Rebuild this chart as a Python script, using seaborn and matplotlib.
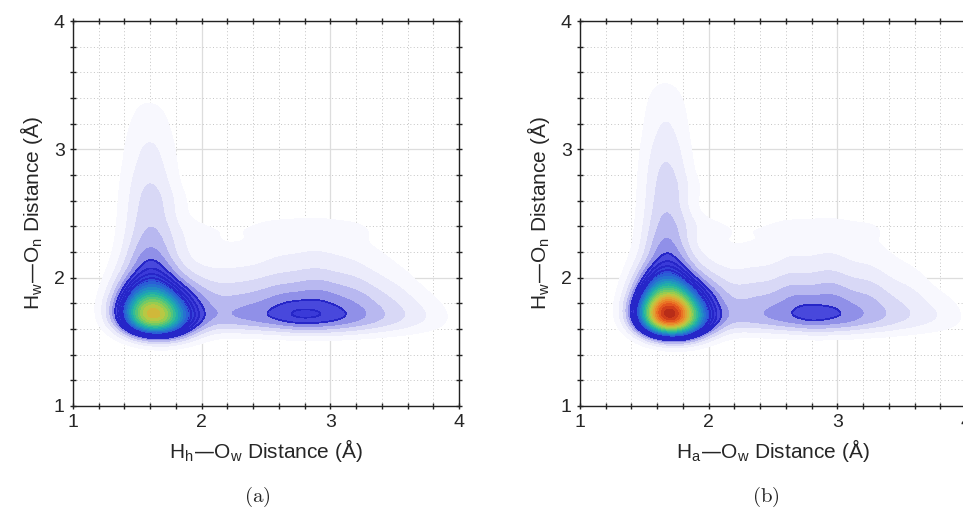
import numpy as np
import matplotlib
matplotlib.use("Agg")
import matplotlib.pyplot as plt
from matplotlib.colors import ListedColormap, BoundaryNorm
from matplotlib.ticker import MultipleLocator
import seaborn as sns
from seaborn._statistics import KDE

# Weighted samples (distances in Angstrom).
# (a) H_h-O_w vs H_w-O_n
a_x = [1.50, 1.62, 1.74, 1.86,  1.50, 1.62, 1.74, 1.86,  1.50, 1.62, 1.74, 1.86,
       1.50, 1.62, 1.74, 1.86,  1.50, 1.62, 1.74, 1.86,  1.50, 1.62, 1.74,
       1.50, 1.62, 1.74,  1.50, 1.62, 1.74,
       1.60, 1.60, 1.60, 1.60, 1.60, 1.60, 1.60, 1.60, 1.60, 1.60, 1.60, 1.60, 1.60, 1.60,
       1.85, 1.85,
       2.00, 2.25, 2.50, 2.75, 3.00, 3.25, 3.50, 3.75, 3.95,
       2.00, 2.25, 2.50, 2.75, 3.00, 3.25, 3.50, 3.75, 3.95,
       2.00, 2.30, 2.60, 2.90, 3.20, 3.50, 3.80,
       2.00, 2.30, 2.60, 2.90, 3.20, 3.50, 3.80,
       2.00, 2.30, 2.60, 2.90, 3.20, 3.50,
       2.00, 2.30, 2.60, 2.90, 3.20, 3.50]
a_y = [1.60, 1.60, 1.60, 1.60,  1.67, 1.67, 1.67, 1.67,  1.74, 1.74, 1.74, 1.74,
       1.81, 1.81, 1.81, 1.81,  1.88, 1.88, 1.88, 1.88,  1.95, 1.95, 1.95,
       2.02, 2.02, 2.02,  2.09, 2.09, 2.09,
       2.16, 2.26, 2.36, 2.46, 2.56, 2.66, 2.76, 2.86, 2.96, 3.06, 3.16, 3.26, 3.36, 3.46,
       2.30, 2.60,
       1.66, 1.66, 1.66, 1.66, 1.66, 1.66, 1.66, 1.66, 1.66,
       1.76, 1.76, 1.76, 1.76, 1.76, 1.76, 1.76, 1.76, 1.76,
       1.88, 1.88, 1.88, 1.88, 1.88, 1.88, 1.88,
       2.02, 2.02, 2.02, 2.02, 2.02, 2.02, 2.02,
       2.18, 2.18, 2.18, 2.18, 2.18, 2.18,
       2.38, 2.38, 2.38, 2.38, 2.38, 2.38]
a_w = [4.2, 6.1, 3.5, 1.1,  6.9, 9.6, 5.4, 1.9,  5.8, 8.8, 5.0, 1.8,
       4.5, 7.4, 3.8, 1.0,  3.2, 5.8, 2.7, 0.6,  2.2, 4.6, 1.8,
       1.6, 3.7, 1.0,  1.0, 3.0, 0.6,
       5.6, 5.0, 4.3, 4.0, 3.8, 3.5, 3.2, 2.7, 2.5, 2.2, 1.8, 1.5, 1.2, 0.5,
       1.0, 0.7,
       3.0, 4.75, 5.3, 7.2, 6.4, 4.8, 3.2, 1.8, 0.3,
       2.3, 3.6, 4.0, 5.4, 4.8, 3.6, 2.4, 1.4, 0.2,
       4.0, 4.0, 5.2, 6.0, 4.8, 2.8, 0.8,
       2.8, 2.8, 3.6, 4.4, 3.4, 1.8, 0.3,
       1.8, 1.8, 2.6, 3.0, 2.4, 1.0,
       1.6, 1.4, 2.4, 3.0, 2.1, 0.5]

# (b) H_a-O_w vs H_w-O_n
b_x = [1.57, 1.69, 1.81, 1.93,  1.57, 1.69, 1.81, 1.93,  1.57, 1.69, 1.81, 1.93,
       1.57, 1.69, 1.81, 1.93,  1.57, 1.69, 1.81, 1.93,  1.57, 1.69, 1.81, 1.93,
       1.57, 1.69, 1.81,  1.57, 1.69, 1.81,  1.57, 1.69, 1.81,
       1.67, 1.67, 1.67, 1.67, 1.67, 1.67, 1.67, 1.67, 1.67, 1.67, 1.67, 1.67, 1.67, 1.67, 1.67,
       1.93, 1.93,
       2.05, 2.30, 2.55, 2.80, 3.05, 3.30, 3.55, 3.80, 4.00,
       2.05, 2.30, 2.55, 2.80, 3.05, 3.30, 3.55, 3.80, 4.00,
       2.05, 2.35, 2.65, 2.95, 3.25, 3.55, 3.85,
       2.05, 2.35, 2.65, 2.95, 3.25, 3.55, 3.85,
       2.05, 2.35, 2.65, 2.95, 3.25, 3.55, 3.85,
       2.05, 2.35, 2.65, 2.95, 3.25, 3.55]
b_y = [1.60, 1.60, 1.60, 1.60,  1.67, 1.67, 1.67, 1.67,  1.74, 1.74, 1.74, 1.74,
       1.81, 1.81, 1.81, 1.81,  1.88, 1.88, 1.88, 1.88,  1.95, 1.95, 1.95, 1.95,
       2.02, 2.02, 2.02,  2.09, 2.09, 2.09,  2.16, 2.16, 2.16,
       2.24, 2.34, 2.44, 2.54, 2.64, 2.74, 2.84, 2.94, 3.04, 3.14, 3.24, 3.34, 3.44, 3.54, 3.62,
       2.40, 2.70,
       1.66, 1.66, 1.66, 1.66, 1.66, 1.66, 1.66, 1.66, 1.66,
       1.76, 1.76, 1.76, 1.76, 1.76, 1.76, 1.76, 1.76, 1.76,
       1.88, 1.88, 1.88, 1.88, 1.88, 1.88, 1.88,
       2.02, 2.02, 2.02, 2.02, 2.02, 2.02, 2.02,
       2.18, 2.18, 2.18, 2.18, 2.18, 2.18, 2.18,
       2.38, 2.38, 2.38, 2.38, 2.38, 2.38]
b_w = [5.4, 8.0, 4.8, 1.6,  9.0, 12.5, 7.4, 2.7,  7.5, 11.5, 6.7, 2.4,
       5.8, 9.6, 5.1, 1.4,  4.2, 7.7, 3.7, 1.0,  2.9, 6.1, 2.4, 0.5,
       2.1, 4.8, 1.4,  1.3, 4.0, 0.8,  0.8, 3.2, 0.5,
       5.6, 5.0, 4.4, 4.1, 3.8, 3.7, 3.4, 3.1, 2.7, 2.3, 2.1, 1.8, 1.5, 0.9, 0.3,
       1.0, 0.8,
       3.2, 4.6, 5.4, 7.0, 5.9, 4.4, 3.0, 1.9, 0.4,
       2.4, 3.5, 4.1, 5.4, 4.6, 3.4, 2.3, 1.5, 0.3,
       4.2, 4.2, 5.6, 5.8, 4.6, 2.8, 0.9,
       3.0, 3.0, 4.0, 4.4, 3.3, 1.8, 0.4,
       2.0, 2.0, 2.8, 3.0, 2.3, 1.0, 0.2,
       1.6, 1.6, 2.6, 3.1, 2.1, 0.6]

# number of equal-density bands in each map (b peaks higher)
a_bands = 20
b_bands = 26

# band colours, low to high density
band_colors = ['#f8f8fe', '#ececfb', '#d8d8f6', '#b8b8f0', '#9090e8', '#4848dc',
               '#3a3ad8', '#3440d8', '#2e4ed8', '#2a5ed6', '#2672d0', '#2288c6',
               '#1f9cba', '#22aea8', '#34bc94', '#52c47c', '#74ca64', '#98cc50',
               '#b8c844', '#d0b83a', '#e0a434', '#e88c2c', '#ea7224', '#e2561e',
               '#d03e1a', '#b82c18', '#9e2416']

panels = [
    dict(x=a_x, y=a_y, w=a_w, bands=a_bands,
         xlabel='H$_\\mathregular{h}$—O$_\\mathregular{w}$ Distance (Å)', tag='(a)'),
    dict(x=b_x, y=b_y, w=b_w, bands=b_bands,
         xlabel='H$_\\mathregular{a}$—O$_\\mathregular{w}$ Distance (Å)', tag='(b)'),
]

sns.set_style("white")
plt.rcParams['font.family'] = ['Liberation Sans', 'DejaVu Sans']

fig = plt.figure(figsize=(9.63, 5.18), dpi=100)
lefts = [73 / 963, 580 / 963]
tag_x = [257 / 963, 766 / 963]

for i, p in enumerate(panels):
    ax = fig.add_axes([lefts[i], 112 / 518, 386 / 963, 385 / 518])
    x = np.array(p['x'])
    y = np.array(p['y'])
    w = np.array(p['w'])
    bw = 0.085 / np.sqrt(np.cov(y, aweights=w))

    # equal-density contour levels, turned into seaborn's iso-proportions
    n = p['bands']
    fracs = np.append(np.arange(1, n + 1) / (n + 0.6), 1.0)
    dens, _ = KDE(bw_method=bw, gridsize=300, cut=3)(x, y, weights=w)
    vals = np.sort(dens.ravel())
    below = np.cumsum(vals) / vals.sum()
    q_levels = np.interp(fracs * vals.max(), vals, below)
    q_levels[-1] = 1.0

    cmap = ListedColormap(band_colors[:n])
    sns.kdeplot(x=x, y=y, weights=w, fill=True, levels=q_levels, cmap=cmap,
                bw_method=bw, gridsize=300, cut=3, ax=ax)
    cset = ax.collections[-1]
    lv = np.asarray(cset.levels)
    cset.set_norm(BoundaryNorm(lv, ncolors=n))
    cset.set_cmap(cmap)
    cset.set_array(0.5 * (lv[:-1] + lv[1:]))
    edges = ['none'] * n
    for k in range(5, 9):
        edges[k] = '#2626c8'
    cset.set_edgecolor(edges)
    cset.set_linewidth(0.5)

    ax.set_xlim(1, 4)
    ax.set_ylim(1, 4)
    ax.xaxis.set_major_locator(MultipleLocator(1))
    ax.yaxis.set_major_locator(MultipleLocator(1))
    ax.xaxis.set_minor_locator(MultipleLocator(0.2))
    ax.yaxis.set_minor_locator(MultipleLocator(0.2))
    ax.set_axisbelow(True)
    ax.grid(which='major', color='#dddddd', lw=0.9, ls='-')
    ax.grid(which='minor', color='#c4c4c4', lw=0.7, ls=(0, (1, 2.5)))
    ax.tick_params(which='both', direction='inout', bottom=True, left=True,
                   top=True, right=True, length=5, width=1, color='#222222',
                   labelsize=14)
    for s in ax.spines.values():
        s.set_color('#222222')
        s.set_linewidth(1)
    ax.set_xlabel(p['xlabel'], fontsize=15, labelpad=4)
    ax.set_ylabel('H$_\\mathregular{w}$—O$_\\mathregular{n}$ Distance (Å)', fontsize=15, labelpad=6)
    fig.text(tag_x[i], 1 - 497 / 518, r'$\mathrm{' + p['tag'] + '}$',
             math_fontfamily='cm', fontsize=15, ha='center', va='center')

fig.savefig('out.png', dpi=100)
